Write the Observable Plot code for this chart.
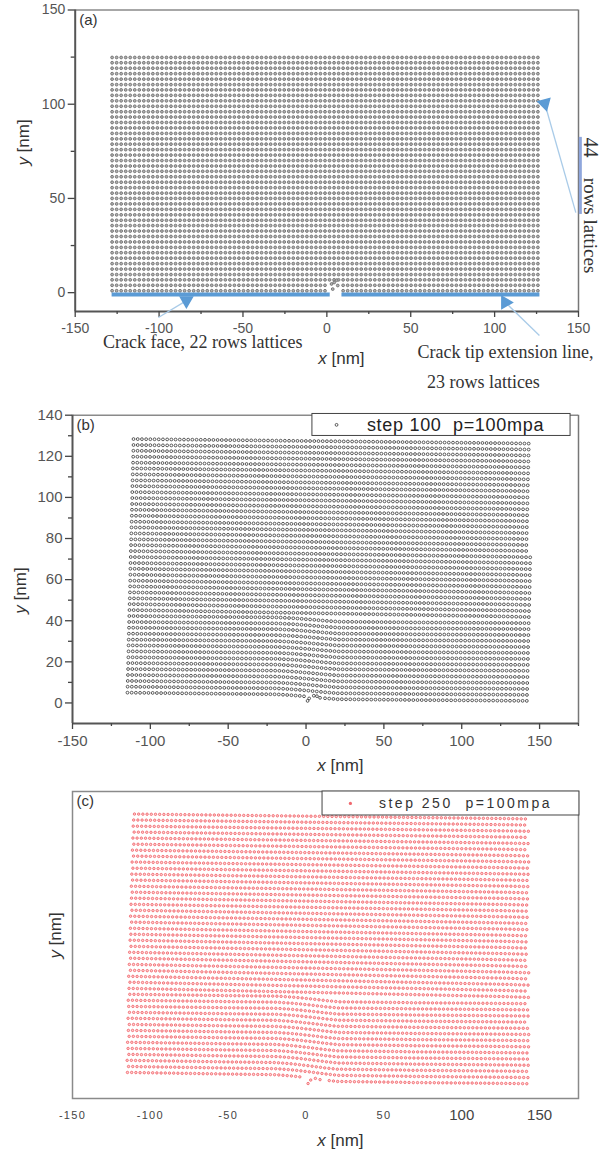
<!DOCTYPE html>
<html><head><meta charset="utf-8">
<script src="https://cdn.jsdelivr.net/npm/d3@7"></script>
<script src="https://cdn.jsdelivr.net/npm/@observablehq/plot@0.6"></script>
<style>html,body{margin:0;padding:0;background:#fff}svg{display:block}g[aria-label="dot"]{filter:blur(.3px)}</style>
</head><body><div id="chart"></div>
<script>
// NOTE: individual lattice dots cannot be resolved in the reference. Values are row-level
// estimates: column pitch, each row's start and left-edge height, each row's left-to-right
// drop, and a column profile of that drop. Panels (b) and (c) are therefore a smooth model
// of the rows, not per-point measurements; (c)'s point-by-point scatter is not reproduced.
const columnOffsets=[0,2.7,5.4,8.1,10.8,13.5,16.2,18.9,21.6,24.3,27,29.7,32.4,35.1,37.8,40.5,43.2,45.9,48.6,51.3,54,56.7,59.4,62.1,64.8,67.5,70.2,72.9,75.6,78.3,81,83.7,86.4,89.1,91.8,94.5,97.2,99.9,102.6,105.3,108,110.7,113.4,116.1,118.8,121.5,124.2,126.9,129.6,132.3,135,137.7,140.4,143.1,145.8,148.5,151.2,153.9,156.6,159.3,162,164.7,167.4,170.1,172.8,175.5,178.2,180.9,183.6,186.3,189,191.7,194.4,197.1,199.8,202.5,205.2,207.9,210.6,213.3,216,218.7,221.4,224.1,226.8,229.5,232.2,234.9,237.6,240.3,243,245.7,248.4,251.1,253.8,256.5,259.2];
const dropProfileLow=[0,0,.01,.02,.02,.03,.03,.04,.05,.05,.06,.06,.07,.08,.08,.09,.09,.1,.11,.11,.12,.12,.13,.14,.14,.15,.15,.16,.16,.17,.17,.18,.18,.19,.19,.2,.22,.25,.28,.31,.35,.39,.44,.48,.53,.58,.63,.68,.72,.76,.8,.8,.81,.81,.82,.82,.83,.83,.84,.84,.85,.85,.86,.86,.87,.87,.88,.89,.9,.9,.9,.91,.91,.91,.92,.92,.92,.93,.93,.93,.94,.94,.94,.95,.95,.95,.96,.96,.97,.97,.97,.98,.98,.99,.99,1,1];
const dropProfileHigh=[0,.01,.02,.03,.04,.05,.06,.07,.08,.09,.1,.11,.12,.13,.14,.15,.16,.17,.18,.19,.2,.21,.22,.23,.24,.25,.26,.27,.28,.29,.3,.31,.32,.33,.34,.35,.36,.37,.38,.39,.4,.41,.42,.43,.44,.45,.46,.47,.48,.49,.5,.51,.52,.53,.54,.55,.56,.57,.58,.59,.6,.61,.62,.63,.64,.65,.66,.67,.68,.69,.7,.71,.72,.73,.74,.75,.76,.77,.78,.79,.8,.81,.82,.83,.84,.85,.86,.87,.88,.89,.9,.92,.93,.95,.96,.98,1];

// Panel (a)
const aRows=[1,3.9,6.8,9.6,12.5,15.4,18.3,21.2,24,26.9,29.8,32.7,35.6,38.4,41.3,44.2,47.1,50,52.8,55.7,58.6,61.5,64.4,67.2,70.1,73,75.9,78.8,81.6,84.5,87.4,90.3,93.2,96,98.9,101.8,104.7,107.6,110.4,113.3,116.2,119.1,122,124.8];
const aCrackTipX=[2.8,4.4,5.8,3.5,6.5];
const aCrackTipY=[4.6,5.4,6.6,1.9,3.8];

// Panel (b)
const bStart=[-114.7,-114.6,-114.5,-114.4,-114.3,-114.2,-114.1,-114,-114,-113.9,-113.8,-113.7,-113.6,-113.5,-113.4,-113.3,-113.2,-113.1,-113,-112.9,-112.8,-112.8,-112.7,-112.6,-112.5,-112.4,-112.3,-112.2,-112.1,-112,-111.9,-111.8,-111.7,-111.6,-111.6,-111.5,-111.4,-111.3,-111.2,-111.1,-111,-110.9,-110.8,-110.8];
const bLeft=[5,7.9,10.7,13.6,16.5,19.4,22.2,25.1,28,30.8,33.7,36.6,39.4,42.3,45.2,48.1,50.9,53.8,56.7,59.5,62.4,65.3,68.1,71,73.9,76.8,79.6,82.5,85.4,88.2,91.1,94,96.8,99.7,102.6,105.5,108.3,111.2,114.1,116.9,119.8,122.7,125.5,128.4];
const bDrop=[4,4,3.9,3.9,3.9,3.8,3.7,3.7,3.7,3.6,3.6,3.6,3.5,3.5,3.5,3.5,3.3,3.3,3.3,3.2,3.2,3.2,3.1,3.1,3.1,3,2.9,2.9,2.9,2.8,2.8,2.8,2.7,2.7,2.7,2.6,2.5,2.5,2.5,2.4,2.4,2.4,2.3,2.3];
const bCrackTipX=[1,2,5,7,9];
const bCrackTipY=[1,2.2,3.5,3.3,2.5];

// Panel (c)
const cStart=[-114.7,-114,-114.9,-113.8,-114.3,-114.6,-113.6,-114.1,-113.5,-114.3,-113.4,-113.9,-114.2,-113.2,-113.7,-113.1,-113.9,-112.8,-113.5,-112.7,-113.3,-112.4,-113,-112.5,-112.8,-112,-112.7,-111.8,-112.4,-112.1,-111.6,-112.2,-111.4,-111.9,-111.2,-111.7,-110.8,-111.5,-110.6,-111.2,-110.4,-111,-110.7,-110.2];
const cLeft=[5.9,8.8,11.8,14.7,17.6,20.6,23.5,26.4,29.3,32.3,35.2,38.1,41.1,44,46.9,49.9,52.8,55.7,58.6,61.6,64.5,67.4,70.4,73.3,76.2,79.2,82.1,85,87.9,90.9,93.8,96.7,99.7,102.6,105.5,108.5,111.4,114.3,117.2,120.2,123.1,126,129,131.9];
const cDrop=[5.5,5.4,5.4,5.3,5.2,5.2,5.1,5,4.9,4.9,4.8,4.7,4.7,4.6,4.5,4.5,4.4,4.3,4.2,4.2,4.1,4,4,3.9,3.8,3.8,3.7,3.6,3.5,3.5,3.4,3.3,3.3,3.2,3.1,3.1,3,2.9,2.8,2.8,2.7,2.6,2.6,2.5];
const cCrackTipX=[1.3,3,6,9];
const cCrackTipY=[0.5,2.2,3,2.4];

const xMajor=[-150,-100,-50,0,50,100,150];
const xMinor=[-125,-75,-25,25,75,125];
const aYMajor=[0,50,100,150], aYMinor=[25,75,125];
const bYMajor=[0,20,40,60,80,100,120,140], bYMinor=[10,30,50,70,90,110,130];
const bXMinorRight=[175];
const cXSmall=[-150,-100,-50,0,50], cXBig=[100,150];

const SANS="Liberation Sans, Arial, sans-serif", SERIF="Liberation Serif, Times New Roman, serif";
const INK="#555", BLUE="#5b9bd5", TAIL="#a9cbe8";
const lowRowCount=14;

function lattice(starts,left,drop,end,gap){
  const pts=[];
  starts.forEach((s,i)=>{
    const profile=i<lowRowCount?dropProfileLow:dropProfileHigh;
    columnOffsets.forEach((o,j)=>{
      const x=s+o;
      if(x>end) return;
      if(i===0&&x>gap[0]&&x<gap[1]) return;
      pts.push({x,y:left[i]-drop[i]*profile[j]});
    });
  });
  return pts;
}
const zip=(X,Y)=>X.map((x,i)=>({x,y:Y[i]}));

const aPts=[];
aRows.forEach((y,i)=>columnOffsets.forEach(o=>{
  const x=-128+o;
  if(x>127.2) return;
  if(i<=1&&x>1&&x<8) return;
  aPts.push({x,y});
}));
const bPts=lattice(bStart,bLeft,bDrop,144,[0,12]);
const cPts=lattice(cStart,cLeft,cDrop,143,[-4,13]);

const frameMarks=(x0,x1,y0,y1)=>[
  Plot.ruleY([y1],{stroke:"#8a8a8a",strokeWidth:1.5}),
  Plot.ruleX([x1],{stroke:"#777",strokeWidth:1.5}),
  Plot.ruleX([x0],{stroke:"#555",strokeWidth:2}),
  Plot.ruleY([y0],{stroke:"#555",strokeWidth:2})
];
const axes=(yMaj,yMin,xMin,fs)=>[
  Plot.axisX({anchor:"bottom",ticks:xMajor,tickSize:6,tickPadding:6,tickFormat:d=>String(d),label:null,fontSize:fs,fill:INK,stroke:"#444",strokeWidth:1.3}),
  Plot.axisX({anchor:"bottom",ticks:xMin,tickSize:3,tickFormat:()=>"",label:null,stroke:"#444",strokeWidth:1.3}),
  Plot.axisY({anchor:"left",ticks:yMaj,tickSize:7,tickPadding:3,tickFormat:d=>String(d),label:null,fontSize:fs,fill:INK,stroke:"#444",strokeWidth:1.3}),
  Plot.axisY({anchor:"left",ticks:yMin,tickSize:4,tickFormat:()=>"",label:null,stroke:"#444",strokeWidth:1.3})
];
const tag=t=>Plot.text([t],{frameAnchor:"top-left",dx:4,dy:4,fontSize:15,fill:"#333",fontFamily:SANS});
const axisLabel=(t,x,y,rotate)=>Plot.text([t],{x:[x],y:[y],text:d=>d,rotate,fontSize:17,fill:"#333",fontFamily:SANS});
const note=(t,x,y,rotate,fs)=>Plot.text([t],{x:[x],y:[y],text:d=>d,rotate:rotate||0,fontSize:fs||18,fill:"#333",fontFamily:SERIF});
const tail=(x1,y1,x2,y2)=>Plot.link([0],{x1:[x1],y1:[y1],x2:[x2],y2:[y2],stroke:TAIL,strokeWidth:1.3});
const head=(x,y,rotate)=>Plot.dot([0],{x:[x],y:[y],symbol:"triangle",r:4.5,fill:BLUE,stroke:BLUE,rotate});
const bar=(x1,x2)=>Plot.ruleY([-1],{x1:x1,x2:x2,stroke:BLUE,strokeWidth:4});

const panelA=Plot.plot({
  width:602,height:392,marginLeft:74.7,marginRight:24,marginTop:9.5,marginBottom:81,
  style:{fontFamily:SANS,background:"#fff",overflow:"visible"},
  x:{domain:[-150,150]},y:{domain:[-10,150]},
  marks:[
    ...frameMarks(-150,150,-10,150),
    ...axes(aYMajor,aYMinor,xMinor,14),
    Plot.dot(aPts,{x:"x",y:"y",r:1.4,fill:"#b0b0b0",stroke:"#707070",strokeWidth:0.9}),
    Plot.dot(zip(aCrackTipX,aCrackTipY),{x:"x",y:"y",r:1.4,fill:"#b0b0b0",stroke:"#707070",strokeWidth:0.9}),
    bar(-128,2),bar(9,127),
    Plot.ruleX([151.1],{y1:41.5,y2:82.4,stroke:"#8fa6dc",strokeWidth:3}),
    tail(-100.4,-13.2,-83.7,-4.2),head(-83.7,-4.2,180),
    tail(126.7,-22.7,106.4,-5.2),head(106.4,-5.2,-30),
    tail(148.4,42.5,129.9,100.4),head(129.9,100.4,45),
    note("Crack face, 22 rows lattices",-74,-26.5),
    note("Crack tip extension line,",106.5,-31.8),
    note("23 rows lattices",93.3,-47.7),
    note("44",157,77,90,20),
    note("rows lattices",157,35.6,90,19),
    tag("(a)"),
    axisLabel("x [nm]",8.7,-34.9),
    axisLabel("y [nm]",-180.8,79.7,-90)
  ]
});

const panelB=Plot.plot({
  width:602,height:383,marginLeft:72,marginRight:24,marginTop:22.7,marginBottom:52,
  style:{fontFamily:SANS,background:"#fff",overflow:"visible"},
  x:{domain:[-150,175]},y:{domain:[-10,140]},
  marks:[
    ...frameMarks(-150,175,-10,140),
    ...axes(bYMajor,bYMinor,xMinor.concat(bXMinorRight),15),
    Plot.dot(bPts,{x:"x",y:"y",r:1.4,stroke:"#333",strokeWidth:0.8,fill:"none"}),
    Plot.dot(zip(bCrackTipX,bCrackTipY),{x:"x",y:"y",r:1.4,stroke:"#333",strokeWidth:0.8,fill:"none"}),
    Plot.rect([0],{x1:[4.1],x2:[169.9],y1:[129.9],y2:[140.6],fill:"#fff",stroke:"#444",strokeWidth:1}),
    Plot.dot([0],{x:[19.6],y:[135.3],r:1.4,stroke:"#333",strokeWidth:0.8,fill:"none"}),
    Plot.text(["step 100\u00A0\u00A0p=100mpa"],{x:[96],y:[135.3],text:d=>d,fontSize:18,fill:"#222",fontFamily:SANS}),
    tag("(b)"),
    axisLabel("x [nm]",22.1,-30.5),
    axisLabel("y [nm]",-183.4,54.7,-90)
  ]
});

const panelC=Plot.plot({
  width:602,height:381,marginLeft:72,marginRight:24,marginTop:16,marginBottom:58,
  style:{fontFamily:SANS,background:"#fff",overflow:"visible"},
  x:{domain:[-150,175],axis:null},y:{domain:[-6.8,142.9],axis:null},
  marks:[
    Plot.frame({stroke:"#8a8a8a",strokeWidth:1.5}),
    Plot.dot(cPts,{x:"x",y:"y",r:1.2,stroke:"#f0686e",strokeWidth:0.9,fill:"#ffd0d0"}),
    Plot.dot(zip(cCrackTipX,cCrackTipY),{x:"x",y:"y",r:1.2,stroke:"#f0686e",strokeWidth:0.9,fill:"#ffd0d0"}),
    Plot.rect([0],{x1:[10.6],x2:[175.6],y1:[131.2],y2:[142.9],fill:"#fff",stroke:"#444",strokeWidth:1}),
    Plot.dot([0],{x:[28.5],y:[137.1],r:1.6,fill:"#f0686e"}),
    Plot.text(["step 250\u00A0\u00A0p=100mpa"],{x:[102.4],y:[137.1],text:d=>d,fontSize:14,fill:"#333",fontFamily:SANS}),
    Plot.text(cXSmall,{x:d=>d,y:()=>-15.1,text:d=>String(d),fontSize:11,fill:"#444",fontFamily:SANS}),
    Plot.text(cXBig,{x:d=>d,y:()=>-15.1,text:d=>String(d),fontSize:15,fill:"#444",fontFamily:SANS}),
    tag("(c)"),
    axisLabel("x [nm]",22.1,-27.3),
    axisLabel("y [nm]",-160.9,72.7,-90)
  ]
});

const host=document.getElementById("chart");
[panelA,panelB,panelC].forEach(p=>host.appendChild(p));
d3.selectAll("svg text").each(function(){
  const s=d3.select(this),t=s.text();
  const m=/^(x|y) \[nm\]$/.exec(t);
  if(m){
    const target=s.select("tspan").empty()?s:s.select("tspan");
    target.text(null);
    target.append("tspan").attr("font-style","italic").text(m[1]);
    target.append("tspan").text(" [nm]");
  }
  if(t.startsWith("step 250")) s.attr("letter-spacing","2.5");
  if(t.startsWith("step 100")) s.attr("letter-spacing","0.7");
  if(["-150","-100","-50","0","50"].includes(t)&&this.closest("svg")===panelC) s.attr("letter-spacing","1.3");
});
</script></body></html>
